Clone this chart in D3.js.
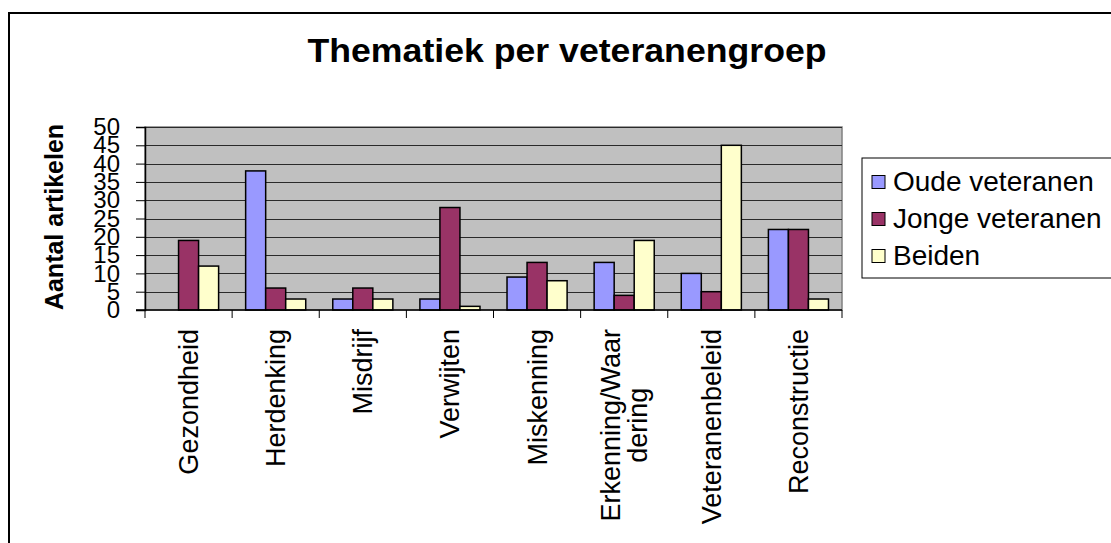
<!DOCTYPE html>
<html>
<head>
<meta charset="utf-8">
<script src="https://cdn.jsdelivr.net/npm/d3@7"></script>
<style>
  body { margin: 0; background: #fff; }
  svg { display: block; font-family: "Liberation Sans", Arial, sans-serif; }
</style>
</head>
<body>
<div id="chart"></div>
<script>
// data
const categories = ["Gezondheid", "Herdenking", "Misdrijf", "Verwijten", "Miskenning",
    "Erkenning/Waar dering", "Veteranenbeleid", "Reconstructie"];
const series = ["Oude veteranen", "Jonge veteranen", "Beiden"];
const oudeValues = [0, 38, 3, 3, 9, 13, 10, 22];
const jongeValues = [19, 6, 6, 28, 13, 4, 5, 22];
const beidenValues = [12, 3, 3, 1, 8, 19, 45, 3];
const yTicks = [0, 5, 10, 15, 20, 25, 30, 35, 40, 45, 50];
const colors = ["#9999ff", "#993366", "#ffffcc"];

const values = [oudeValues, jongeValues, beidenValues];

const W = 1111, H = 543;
const plot = { left: 145, right: 842, top: 127, bottom: 310 };

const svg = d3.select("#chart")
    .append("svg")
    .attr("width", W)
    .attr("height", H);

// outer chart border
svg.append("rect")
    .attr("x", 9).attr("y", 13)
    .attr("width", W + 20).attr("height", H + 20)
    .attr("fill", "#fff")
    .attr("stroke", "#000")
    .attr("stroke-width", 2);

// title
svg.append("text")
    .attr("x", 567)
    .attr("y", 62)
    .attr("text-anchor", "middle")
    .attr("font-size", 33)
    .attr("font-weight", "bold")
    .attr("textLength", 519)
    .attr("lengthAdjust", "spacingAndGlyphs")
    .text("Thematiek per veteranengroep");

const x0 = d3.scaleBand()
    .domain(categories)
    .range([plot.left, plot.right])
    .paddingInner(0)
    .paddingOuter(0);

const x1 = d3.scaleBand()
    .domain(series)
    .range([0, x0.bandwidth()])
    .paddingInner(0)
    .paddingOuter(0.675);

const y = d3.scaleLinear()
    .domain([0, 50])
    .range([plot.bottom, plot.top]);

// plot area
svg.append("rect")
    .attr("x", plot.left)
    .attr("y", plot.top)
    .attr("width", plot.right - plot.left)
    .attr("height", plot.bottom - plot.top)
    .attr("fill", "#c0c0c0")
    .attr("stroke", "#808080")
    .attr("stroke-width", 1.5);

// gridlines
svg.append("g")
    .selectAll("line")
    .data(yTicks.filter(d => d > 0))
    .enter()
    .append("line")
    .attr("x1", plot.left)
    .attr("x2", plot.right)
    .attr("y1", d => Math.round(y(d)) + 0.5)
    .attr("y2", d => Math.round(y(d)) + 0.5)
    .attr("stroke", "#2a2a2a")
    .attr("stroke-width", 1);

// bars
const rows = categories.map((c, i) => ({ cat: c, vals: series.map((s, j) => ({ s, j, v: values[j][i] })) }));

const groups = svg.append("g")
    .selectAll("g")
    .data(rows)
    .enter()
    .append("g")
    .attr("transform", d => `translate(${x0(d.cat)},0)`);

groups.selectAll("rect")
    .data(d => d.vals.filter(e => e.v > 0))
    .enter()
    .append("rect")
    .attr("x", d => x1(d.s))
    .attr("y", d => y(d.v))
    .attr("width", x1.bandwidth())
    .attr("height", d => y(0) - y(d.v))
    .attr("fill", d => colors[d.j])
    .attr("stroke", "#000")
    .attr("stroke-width", 1.5);

// y axis
const yAxis = svg.append("g")
    .attr("transform", `translate(${plot.left},0)`)
    .call(d3.axisLeft(y).tickValues(yTicks).tickSize(9).tickPadding(16));
yAxis.select(".domain").attr("stroke", "#000").attr("stroke-width", 1.5);
yAxis.selectAll(".tick line").attr("stroke", "#000");
yAxis.selectAll(".tick text")
    .attr("font-size", 24)
    .attr("fill", "#000")
    .attr("font-family", "Liberation Sans, Arial, sans-serif");

// x axis line + tick marks at category boundaries
const xAxisG = svg.append("g");
xAxisG.append("line")
    .attr("x1", plot.left - 9).attr("x2", plot.right)
    .attr("y1", plot.bottom).attr("y2", plot.bottom)
    .attr("stroke", "#000").attr("stroke-width", 1.5);
xAxisG.selectAll(".bt")
    .data(categories.concat(["end"]))
    .enter()
    .append("line")
    .attr("x1", (d, i) => i < categories.length ? x0(d) : plot.right)
    .attr("x2", (d, i) => i < categories.length ? x0(d) : plot.right)
    .attr("y1", plot.bottom)
    .attr("y2", plot.bottom + 8)
    .attr("stroke", "#000");

// category labels, rotated, top aligned
const labelTop = 329;
categories.forEach(c => {
    const lines = c.split(" ");
    const cx = x0(c) + x0.bandwidth() / 2;
    const t = xAxisG.append("text")
        .attr("font-size", 27)
        .attr("text-anchor", "middle");
    lines.forEach((ln, k) => {
        t.append("tspan").attr("x", 0).attr("y", 0).attr("data-k", k).text(ln);
    });
    const maxLen = d3.max(t.selectAll("tspan").nodes(), n => n.getComputedTextLength());
    const n = lines.length;
    t.selectAll("tspan")
        .attr("dy", (d, k, nodes) => ((+nodes[k].getAttribute("data-k") - (n - 1) / 2) * 1.0 + 0.35) + "em");
    t.attr("transform", `translate(${cx},${labelTop + maxLen / 2}) rotate(-90)`);
});

// y axis title
svg.append("text")
    .attr("transform", `translate(63,217) rotate(-90)`)
    .attr("text-anchor", "middle")
    .attr("font-size", 25)
    .attr("font-weight", "bold")
    .text("Aantal artikelen");

// legend
const legend = svg.append("g");
legend.append("rect")
    .attr("x", 862).attr("y", 158)
    .attr("width", 280).attr("height", 120)
    .attr("fill", "#fff")
    .attr("stroke", "#000")
    .attr("stroke-width", 1);

const legendRows = legend.selectAll(".lr")
    .data(series)
    .enter()
    .append("g")
    .attr("transform", (d, i) => `translate(872,${182 + i * 37})`);

legendRows.append("rect")
    .attr("x", 0).attr("y", -6.5)
    .attr("width", 13).attr("height", 13)
    .attr("fill", (d, i) => colors[i])
    .attr("stroke", "#000")
    .attr("stroke-width", 1);

legendRows.append("text")
    .attr("x", 21)
    .attr("y", 9)
    .attr("font-size", 28)
    .text(d => d);
</script>
</body>
</html>
